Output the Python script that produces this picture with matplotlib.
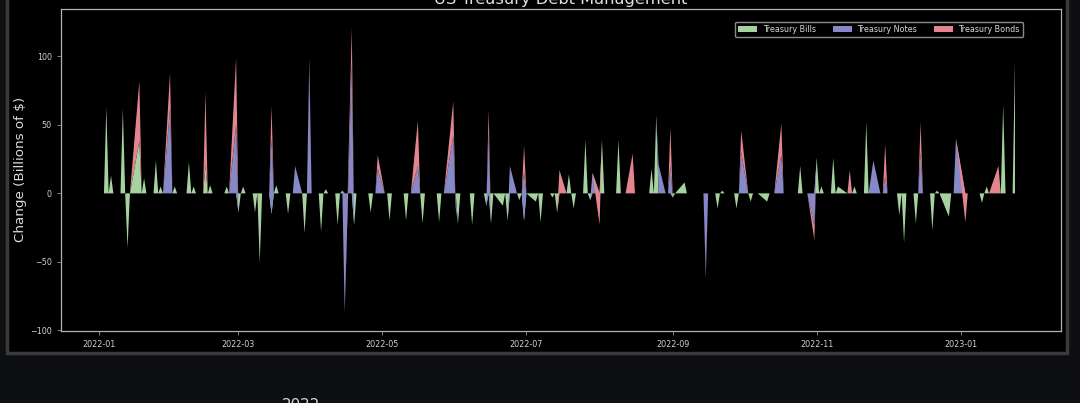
import numpy as np
import pandas as pd
import matplotlib
matplotlib.use('Agg')
import matplotlib.pyplot as plt
import matplotlib.dates as mdates
from matplotlib.patches import Rectangle
from pandas.tseries.holiday import USFederalHolidayCalendar

# ---------------- data ----------------
event_dates = [
    '2022-01-04', '2022-01-06', '2022-01-11', '2022-01-13', '2022-01-18', '2022-01-20',
    '2022-01-25', '2022-01-27', '2022-01-31', '2022-02-02', '2022-02-08', '2022-02-10',
    '2022-02-15', '2022-02-17', '2022-02-24', '2022-02-28', '2022-03-01', '2022-03-03',
    '2022-03-08', '2022-03-10', '2022-03-15', '2022-03-17', '2022-03-22', '2022-03-25',
    '2022-03-29', '2022-03-31', '2022-04-05', '2022-04-07', '2022-04-12', '2022-04-14',
    '2022-04-15', '2022-04-18', '2022-04-19', '2022-04-26', '2022-04-29', '2022-05-04',
    '2022-05-11', '2022-05-16', '2022-05-18', '2022-05-25', '2022-05-31', '2022-06-01',
    '2022-06-02', '2022-06-08', '2022-06-14', '2022-06-15', '2022-06-16', '2022-06-21',
    '2022-06-23', '2022-06-24', '2022-06-28', '2022-06-30', '2022-07-05', '2022-07-07',
    '2022-07-12', '2022-07-14', '2022-07-15', '2022-07-19', '2022-07-21', '2022-07-26',
    '2022-07-28', '2022-07-29', '2022-08-01', '2022-08-02', '2022-08-09', '2022-08-15',
    '2022-08-23', '2022-08-25', '2022-08-26', '2022-08-31', '2022-09-01', '2022-09-06',
    '2022-09-15', '2022-09-20', '2022-09-22', '2022-09-28', '2022-09-30', '2022-10-04',
    '2022-10-11', '2022-10-17', '2022-10-25', '2022-10-31', '2022-11-01', '2022-11-03',
    '2022-11-08', '2022-11-10', '2022-11-15', '2022-11-17', '2022-11-22', '2022-11-25',
    '2022-11-30', '2022-12-06', '2022-12-08', '2022-12-13', '2022-12-15', '2022-12-20',
    '2022-12-22', '2022-12-27', '2022-12-30', '2023-01-03', '2023-01-10', '2023-01-12',
    '2023-01-17', '2023-01-19', '2023-01-24',
]
bills = [
    63, 13, 62, -40, 38, 11,
    24, 5, 0, 5, 23, 5,
    20, 6, 5, 0, -14, 5,
    -14, -51, -15, 6, -15, 0,
    -29, 0, -28, 3, -23, 2,
    0, 0, -23, -14, 0, -20,
    -20, 0, -22, -21, 0, 0,
    -22, -23, -9, 0, -22, -9,
    -20, 0, -5, -20, -6, -21,
    -3, -14, 0, 14, -11, 39,
    -5, 0, 0, 39, 39, 0,
    18, 57, 0, 0, -3, 8,
    0, -11, 2, -11, 0, -6,
    -6, 0, 20, 0, 26, 5,
    26, 5, 0, 5, 52, 0,
    0, -16, -36, -22, 0, -27,
    2, -17, 0, 0, -7, 5,
    0, 65, 97,
]
notes = [
    0, 0, 0, 0, 0, 0,
    0, 0, 62, 0, 0, 0,
    0, 0, 0, 50, 0, 0,
    0, 0, 55, 0, 0, 20,
    0, 94, 0, 0, 0, 0,
    -87, 96, 0, 0, 18, 0,
    0, 20, 0, 0, 42, -10,
    0, 0, 0, 45, 0, 0,
    0, 20, 0, 35, 0, 0,
    0, 0, 0, 0, 0, 0,
    0, 15, 0, 0, 0, 0,
    0, 0, 21, 20, 0, 0,
    -58, 0, 0, 0, 30, 0,
    0, 28, 0, -24, 0, 0,
    0, 0, 0, 0, 0, 24,
    12, 0, 0, 0, 30, 0,
    0, 0, 40, 0, 0, 0,
    0, 0, 0,
]
bonds = [
    0, 0, 0, 0, 44, 0,
    0, 0, 26, 0, 0, 0,
    54, 0, 0, 49, 0, 0,
    0, 0, 24, 0, 0, 0,
    0, 5, 0, 0, 0, 0,
    0, 25, 0, 0, 10, 0,
    0, 33, 0, 0, 25, 0,
    0, 0, 0, 16, 0, 0,
    0, 0, 0, 20, 0, 0,
    0, 0, 17, 0, 0, 0,
    0, 0, -23, 0, 0, 29,
    0, 0, 0, 28, 0, 0,
    -4, 0, 0, 0, 16, 0,
    0, 23, 0, -10, 0, 0,
    0, 0, 17, 0, 0, 0,
    24, 0, 0, 0, 22, 0,
    0, 0, 0, -21, 0, 0,
    20, 0, 0,
]
series_labels = ['Treasury Bills', 'Treasury Notes', 'Treasury Bonds']
series_colors = ['#a6d29f', '#8689c8', '#e3848f']
title_text = 'US Treasury Debt Management'
ylabel_text = 'Change (Billions of $)'
xtick_dates = ['2022-01-01', '2022-03-01', '2022-05-01', '2022-07-01',
               '2022-09-01', '2022-11-01', '2023-01-01']
ytick_values = [-100, -50, 0, 50, 100]
first_day, last_day = '2022-01-03', '2023-01-24'

# ---------------- figure ----------------
W, H = 1080, 403
fig = plt.figure(figsize=(W / 100, H / 100), dpi=100, facecolor='#0d0f12')


def fx(px):
    return px / W


def fy(py):
    return 1 - py / H


card = Rectangle((fx(7), fy(353)), fx(1067) - fx(7), fy(-20) - fy(353),
                 transform=fig.transFigure, facecolor='black',
                 edgecolor='#3a3a3a', linewidth=2.5, zorder=-1)
fig.add_artist(card)

ax = fig.add_axes([fx(61), fy(331), fx(1061) - fx(61), fy(8.5) - fy(331)])
ax.set_facecolor('black')

hol = USFederalHolidayCalendar().holidays('2021-12-01', '2023-03-01')
idx = pd.bdate_range(first_day, last_day, freq='C', holidays=hol)
ev = pd.DataFrame({'bills': bills, 'notes': notes, 'bonds': bonds},
                  index=pd.to_datetime(event_dates))
df = ev.reindex(idx.union(ev.index), fill_value=0)

ax.stackplot(df.index, df['bills'], df['notes'], df['bonds'],
             labels=series_labels, colors=series_colors, linewidth=0)

base = pd.Timestamp('2022-01-01')
ax.set_xlim(mdates.date2num(base - pd.Timedelta(days=16.2)),
            mdates.date2num(base + pd.Timedelta(days=407.5)))
ax.set_ylim(-100.5, 135)

ax.set_xticks([mdates.date2num(pd.Timestamp(d)) for d in xtick_dates])
ax.xaxis.set_major_formatter(mdates.DateFormatter('%Y-%m'))
ax.set_yticks(ytick_values)

for s in ax.spines.values():
    s.set_color('#b0b0b0')
    s.set_linewidth(0.9)
ax.tick_params(colors='#9a9a9a', labelcolor='#d0d0d0', labelsize=5.8,
               length=3, width=0.6)

ax.set_ylabel(ylabel_text, fontsize=9.7, color='#dcdcdc')
ax.yaxis.set_label_coords(-0.034, 0.5)

leg = ax.legend(loc='upper right', bbox_to_anchor=(0.962, 0.959), borderaxespad=0,
                ncol=3, fontsize=5.8, facecolor='black', edgecolor='#8a8a8a',
                framealpha=1, labelcolor='#d8d8d8', handlelength=2.4,
                handletextpad=0.65, columnspacing=2.1)

fig.text(fx(561), fy(4), title_text, ha='center', va='baseline',
         fontsize=11.7, color='#e0e0e0')

fig.text(fx(301), fy(397.5), '2022', ha='center', va='top',
         fontsize=10.8, color='#d8d8d8')

fig.savefig('out.png', dpi=100, facecolor=fig.get_facecolor())
